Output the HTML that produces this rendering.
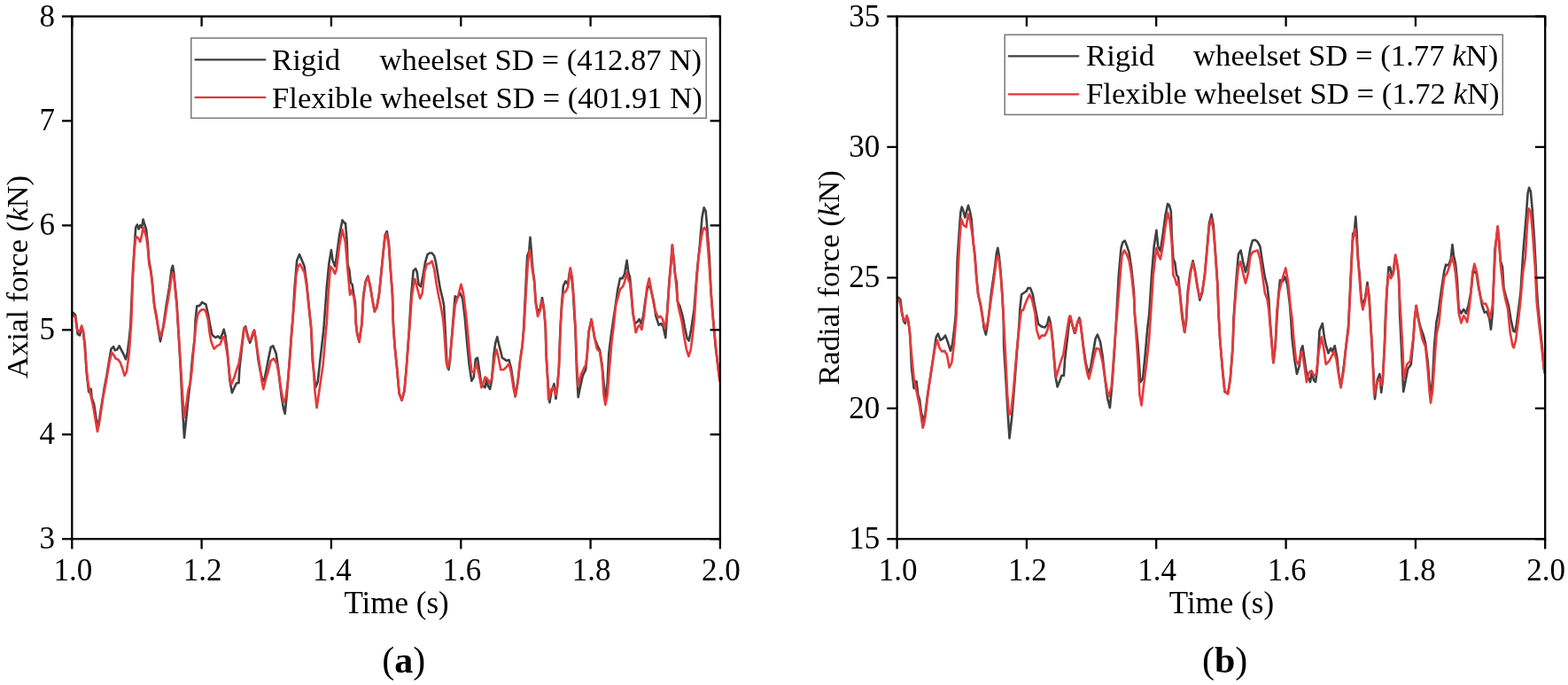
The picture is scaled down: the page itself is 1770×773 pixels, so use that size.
<!DOCTYPE html><html><head><meta charset="utf-8"><style>
html,body{margin:0;padding:0;background:#fff;width:1770px;height:773px;overflow:hidden}
svg{display:block}
.t{font-family:"Liberation Serif","Times New Roman",serif;font-size:35px;fill:#000}
.lg{font-size:34.7px}
</style></head><body>
<svg width="1770" height="773" viewBox="0 0 1770 773">
<rect width="1770" height="773" fill="#fff"/>
<path d="M81.5,353.0 L82.5,352.8 L85.0,355.3 L86.7,368.0 L87.6,376.8 L90.1,378.5 L91.8,370.0 L93.5,372.0 L96.0,390.3 L97.7,420.6 L100.2,442.4 L102.7,439.1 L103.6,449.0 L106.1,455.9 L108.6,472.7 L110.3,478.0 L111.5,480.0 L112.8,469.0 L115.4,452.5 L117.9,437.0 L120.4,423.9 L122.9,408.8 L125.5,393.6 L128.0,391.1 L129.7,395.3 L132.2,394.5 L134.7,390.3 L137.2,395.3 L139.8,400.4 L142.0,405.4 L144.0,397.0 L145.7,383.5 L147.3,368.0 L149.9,307.3 L151.5,282.0 L153.2,256.8 L154.9,253.5 L156.6,258.5 L158.3,254.3 L160.0,256.8 L161.6,247.6 L163.3,253.5 L165.0,258.5 L166.7,273.7 L168.4,295.6 L170.1,304.0 L171.8,317.4 L172.6,327.5 L174.3,344.4 L176.8,357.8 L178.5,370.0 L181.0,385.2 L182.5,378.0 L184.4,368.0 L187.7,344.4 L191.1,324.2 L193.6,304.0 L195.0,299.8 L196.2,307.0 L197.8,324.2 L199.5,341.0 L201.2,370.0 L203.5,410.0 L206.0,460.0 L208.0,494.0 L210.5,470.0 L212.5,450.0 L214.7,432.3 L217.0,405.0 L219.7,381.8 L220.5,362.0 L222.3,345.2 L224.8,345.2 L226.5,343.5 L228.1,341.0 L230.7,342.6 L232.4,343.5 L234.9,354.5 L237.4,368.0 L239.0,376.0 L240.0,378.5 L243.4,381.0 L246.0,379.3 L248.5,381.8 L251.0,376.8 L252.7,371.7 L254.4,378.5 L256.9,398.7 L259.4,429.0 L261.9,443.3 L264.5,437.4 L267.0,432.3 L269.5,432.3 L270.4,415.5 L272.9,393.6 L275.4,371.7 L277.1,368.4 L279.6,378.5 L282.1,386.9 L284.7,380.2 L286.9,372.6 L288.9,383.5 L291.4,405.4 L293.9,418.9 L296.4,429.0 L298.1,429.8 L300.7,417.2 L303.2,403.7 L305.7,391.9 L308.2,390.3 L311.6,398.7 L314.1,415.5 L317.5,445.8 L320.0,461.0 L321.7,466.9 L324.2,440.8 L326.8,407.1 L329.3,373.4 L330.5,360.0 L332.6,324.2 L335.2,293.9 L338.0,287.1 L340.2,292.2 L343.6,300.6 L346.1,319.1 L348.6,344.4 L351.2,370.0 L352.8,407.1 L356.2,437.4 L358.7,430.8 L361.3,407.1 L364.6,378.5 L365.5,370.0 L368.8,324.2 L371.4,297.2 L373.9,282.1 L375.6,293.9 L378.1,300.6 L379.8,290.5 L383.1,265.3 L386.5,248.4 L389.0,251.8 L390.0,251.8 L391.7,273.7 L392.5,298.9 L394.2,304.0 L395.9,319.1 L397.6,320.8 L399.3,332.6 L401.0,341.0 L401.8,365.0 L403.2,376.8 L405.5,386.0 L406.8,376.8 L408.5,365.0 L410.2,334.3 L412.7,317.4 L415.3,311.5 L417.8,322.5 L420.3,337.6 L422.8,351.1 L425.4,346.1 L427.9,332.6 L430.4,307.3 L432.9,282.1 L434.6,265.3 L436.8,261.0 L438.8,273.7 L440.5,298.9 L443.0,332.6 L443.9,365.0 L445.6,390.3 L448.1,415.5 L450.6,444.1 L453.6,451.7 L456.5,440.8 L459.0,412.1 L461.5,378.0 L464.1,334.3 L466.6,305.7 L469.1,303.1 L470.8,307.3 L472.5,320.8 L475.0,323.3 L477.5,310.7 L480.1,295.6 L482.6,287.1 L485.1,285.5 L487.6,285.5 L490.2,288.8 L491.9,295.6 L494.4,310.7 L496.9,325.9 L499.4,336.0 L501.1,344.4 L502.5,370.0 L504.5,410.5 L506.5,417.2 L507.8,407.1 L509.5,386.9 L511.2,365.0 L513.7,334.3 L516.3,336.0 L519.6,330.9 L522.2,337.6 L524.7,358.0 L527.2,386.9 L529.7,412.1 L532.3,429.8 L534.8,425.6 L536.8,405.4 L539.0,403.7 L540.7,415.5 L543.2,432.3 L545.7,435.7 L547.5,437.4 L549.2,429.0 L551.0,435.7 L553.1,439.1 L555.1,429.0 L557.6,398.7 L559.3,386.9 L561.3,380.2 L563.1,388.6 L564.9,395.3 L566.9,403.7 L569.4,405.4 L571.9,407.1 L574.5,406.2 L577.0,415.5 L579.5,432.3 L581.7,447.5 L584.6,430.6 L587.1,407.1 L589.6,390.3 L591.2,370.0 L593.0,332.6 L595.2,288.8 L597.2,283.8 L598.5,267.8 L599.7,282.1 L601.4,304.0 L603.1,315.8 L604.8,341.0 L607.0,352.8 L609.8,347.8 L612.0,336.0 L614.0,347.8 L615.7,368.0 L616.5,398.7 L618.2,427.3 L620.4,454.2 L622.4,442.4 L625.5,433.2 L627.5,450.0 L629.2,435.7 L630.9,415.5 L632.5,370.0 L634.2,341.0 L635.9,322.5 L638.4,317.4 L641.0,320.8 L643.5,304.0 L645.2,312.4 L646.9,329.2 L648.5,357.8 L649.4,370.0 L651.1,420.6 L652.7,448.3 L655.2,435.7 L657.8,423.9 L661.2,417.2 L662.9,398.7 L664.5,375.0 L667.6,360.4 L669.6,371.7 L671.3,381.8 L674.6,390.3 L677.1,395.3 L679.7,412.1 L681.3,429.0 L683.0,445.8 L683.9,449.2 L685.6,432.3 L687.3,398.7 L689.8,378.5 L691.5,367.0 L694.8,344.4 L697.5,325.8 L700.0,314.1 L702.6,314.1 L705.1,309.0 L707.6,293.9 L709.3,307.4 L711.0,312.4 L712.6,329.0 L713.5,340.0 L714.3,353.0 L716.8,365.2 L719.2,363.5 L721.6,360.2 L723.6,365.2 L726.1,356.8 L727.0,350.0 L728.6,338.0 L731.1,324.2 L733.3,322.5 L735.3,329.2 L737.9,340.0 L740.4,356.8 L743.7,366.9 L746.3,365.2 L748.6,368.6 L751.3,381.2 L753.0,355.0 L755.5,317.4 L757.5,295.6 L758.9,277.1 L760.5,292.2 L762.2,310.7 L763.9,319.1 L764.7,340.0 L767.3,345.0 L770.6,356.8 L773.1,370.0 L775.7,382.0 L777.7,384.5 L779.9,373.6 L782.4,356.8 L783.5,350.0 L786.6,309.0 L790.0,275.4 L792.5,245.2 L794.7,234.2 L796.7,238.4 L798.4,258.6 L800.9,292.2 L802.6,330.0 L803.4,340.0 L805.1,360.2 L807.6,390.4 L811.0,417.3 L812.5,428.0" fill="none" stroke="#404040" stroke-width="2.6" stroke-linejoin="round" stroke-linecap="round"/>
<path d="M81.5,356.0 L82.5,356.0 L85.0,358.0 L86.7,370.0 L87.6,373.4 L90.1,374.3 L92.1,367.5 L94.3,375.1 L96.8,407.1 L99.4,432.3 L101.9,444.1 L105.3,459.3 L107.8,474.4 L110.0,487.0 L112.8,472.7 L116.2,449.2 L120.4,427.3 L123.8,407.1 L126.3,397.8 L128.8,401.2 L130.5,404.6 L133.0,405.4 L135.6,408.8 L138.1,415.5 L140.6,423.9 L143.1,418.9 L145.7,398.7 L147.3,376.8 L148.2,365.0 L149.9,315.0 L151.5,285.0 L153.0,270.0 L154.0,267.0 L156.6,269.5 L158.3,272.8 L160.0,265.3 L161.6,256.8 L163.3,261.9 L165.0,266.9 L166.7,278.7 L168.4,299.0 L170.1,306.0 L171.8,319.0 L172.6,329.2 L174.3,346.1 L176.8,360.0 L178.5,370.0 L181.0,380.0 L182.5,375.0 L184.4,370.0 L187.7,350.0 L191.1,330.0 L193.6,312.0 L195.0,308.2 L196.5,314.0 L197.8,327.0 L199.5,344.4 L201.2,370.0 L203.5,405.0 L206.0,445.0 L208.0,471.0 L210.5,455.0 L212.5,440.0 L214.7,432.3 L216.4,420.0 L219.0,390.0 L221.4,365.0 L223.2,355.0 L225.6,351.1 L228.1,349.4 L230.7,349.4 L232.4,352.0 L234.9,361.2 L236.5,375.0 L238.4,385.2 L240.0,390.0 L241.7,393.6 L245.1,390.3 L248.5,388.6 L251.8,380.2 L253.5,381.8 L256.9,402.0 L259.4,425.6 L261.1,434.0 L264.5,425.6 L267.0,417.2 L269.5,410.5 L272.0,395.3 L275.4,370.0 L277.1,370.0 L280.5,383.5 L283.0,383.5 L285.5,375.0 L287.2,373.4 L289.7,390.3 L293.1,412.1 L295.6,430.6 L297.3,439.1 L299.8,429.0 L302.3,420.6 L305.7,407.1 L309.1,404.6 L312.5,410.5 L315.0,423.9 L317.5,440.8 L320.0,454.2 L322.5,449.2 L325.1,429.0 L327.6,398.7 L330.1,365.0 L332.6,335.0 L334.3,310.7 L336.5,300.6 L338.5,298.1 L341.0,302.3 L343.6,307.3 L346.1,322.5 L348.6,346.1 L351.2,370.0 L352.8,398.7 L355.4,440.8 L357.6,460.1 L360.4,440.8 L364.6,412.1 L367.9,373.4 L368.8,365.0 L370.5,332.6 L373.0,300.6 L375.6,303.9 L378.1,309.0 L379.8,304.0 L383.1,277.0 L386.5,259.4 L389.9,273.7 L392.4,304.0 L395.0,332.6 L396.1,327.5 L397.6,331.0 L399.3,334.3 L401.0,348.0 L401.8,365.0 L403.2,376.8 L405.5,386.0 L406.8,376.8 L408.5,365.0 L410.2,334.3 L412.7,318.4 L415.3,312.4 L417.8,322.5 L420.3,337.6 L422.8,352.0 L425.4,347.0 L427.9,332.6 L430.4,307.3 L432.9,282.1 L434.6,266.9 L436.3,263.6 L438.8,275.4 L440.5,300.0 L443.0,332.6 L443.9,365.0 L445.6,390.3 L448.1,415.5 L450.6,444.1 L453.6,451.7 L456.5,440.8 L459.0,412.1 L461.5,378.0 L462.4,370.0 L464.9,334.3 L467.4,318.4 L468.3,314.9 L471.6,327.5 L474.2,336.8 L476.7,330.9 L479.2,307.3 L481.8,298.1 L485.1,297.2 L487.6,294.7 L490.2,304.0 L492.7,320.8 L495.2,334.3 L497.7,346.1 L500.3,361.2 L501.1,370.0 L503.7,408.0 L505.3,415.5 L507.8,407.1 L509.5,386.9 L511.6,365.0 L513.7,344.4 L517.1,334.3 L520.5,320.8 L523.0,330.9 L526.4,357.8 L527.9,373.4 L529.8,395.3 L532.3,418.9 L534.8,420.6 L537.8,410.5 L540.6,422.3 L543.5,437.4 L546.6,429.0 L547.5,425.6 L550.0,427.3 L552.6,432.3 L555.1,427.3 L558.5,402.0 L560.5,394.5 L562.7,403.7 L565.2,417.2 L568.6,417.2 L571.9,413.8 L574.5,410.5 L577.0,420.6 L579.5,437.4 L581.7,447.5 L584.6,430.6 L587.1,407.1 L589.6,390.3 L591.5,370.0 L593.5,335.0 L595.9,295.6 L598.0,282.1 L599.5,291.0 L600.6,302.3 L603.1,318.0 L604.8,343.0 L607.0,357.0 L609.8,350.0 L612.0,339.3 L614.0,350.0 L615.9,370.0 L616.5,398.7 L618.2,427.3 L619.1,450.9 L622.4,439.1 L625.0,437.4 L627.5,445.8 L629.2,435.7 L630.9,415.5 L632.7,370.0 L634.2,345.0 L635.9,330.9 L638.4,329.2 L641.0,324.2 L643.8,302.3 L646.0,314.0 L648.0,341.0 L649.6,370.0 L651.1,410.0 L652.7,435.7 L656.0,422.3 L659.2,415.5 L661.2,412.0 L662.9,398.7 L664.5,375.0 L667.6,360.4 L669.6,371.7 L671.3,381.8 L673.8,393.6 L677.1,397.0 L679.7,415.5 L681.5,446.0 L683.4,456.8 L685.6,445.8 L688.0,415.5 L690.6,385.2 L692.5,370.0 L695.2,344.4 L697.5,336.0 L700.0,326.5 L703.2,323.2 L705.1,318.0 L707.6,307.4 L709.5,316.4 L711.0,319.1 L713.5,342.6 L715.2,358.0 L717.7,375.3 L720.2,368.6 L721.9,366.9 L724.4,371.9 L726.9,356.8 L728.7,340.0 L730.3,324.2 L732.8,314.1 L735.3,328.0 L737.4,340.0 L739.5,350.0 L742.9,358.5 L745.4,356.8 L747.9,360.0 L750.5,370.3 L753.0,355.0 L755.5,317.4 L757.5,295.6 L758.9,276.3 L760.5,292.2 L762.2,310.7 L764.0,330.0 L765.5,345.0 L767.3,353.0 L769.8,363.5 L772.3,380.3 L774.8,393.8 L777.4,402.2 L779.9,393.8 L782.4,373.6 L784.1,355.0 L785.8,325.0 L788.3,292.0 L791.6,268.7 L793.3,260.0 L795.0,256.9 L797.5,260.3 L800.1,292.2 L802.6,329.0 L804.5,357.0 L806.5,375.0 L809.3,403.9 L811.8,425.7 L812.5,430.0" fill="none" stroke="#e8383a" stroke-width="2.6" stroke-linejoin="round" stroke-linecap="round"/>
<rect x="81.3" y="18.5" width="731.6" height="589.7" fill="none" stroke="#000" stroke-width="2.3"/>
<line x1="81.3" y1="608.2" x2="81.3" y2="619.5" stroke="#000" stroke-width="2.3"/>
<line x1="81.3" y1="18.5" x2="81.3" y2="29.8" stroke="#000" stroke-width="2.3"/>
<text x="82.3" y="655" text-anchor="middle" class="t">1.0</text>
<line x1="227.6" y1="608.2" x2="227.6" y2="619.5" stroke="#000" stroke-width="2.3"/>
<line x1="227.6" y1="18.5" x2="227.6" y2="29.8" stroke="#000" stroke-width="2.3"/>
<text x="228.6" y="655" text-anchor="middle" class="t">1.2</text>
<line x1="373.9" y1="608.2" x2="373.9" y2="619.5" stroke="#000" stroke-width="2.3"/>
<line x1="373.9" y1="18.5" x2="373.9" y2="29.8" stroke="#000" stroke-width="2.3"/>
<text x="374.9" y="655" text-anchor="middle" class="t">1.4</text>
<line x1="520.3" y1="608.2" x2="520.3" y2="619.5" stroke="#000" stroke-width="2.3"/>
<line x1="520.3" y1="18.5" x2="520.3" y2="29.8" stroke="#000" stroke-width="2.3"/>
<text x="521.3" y="655" text-anchor="middle" class="t">1.6</text>
<line x1="666.6" y1="608.2" x2="666.6" y2="619.5" stroke="#000" stroke-width="2.3"/>
<line x1="666.6" y1="18.5" x2="666.6" y2="29.8" stroke="#000" stroke-width="2.3"/>
<text x="667.6" y="655" text-anchor="middle" class="t">1.8</text>
<line x1="812.9" y1="608.2" x2="812.9" y2="619.5" stroke="#000" stroke-width="2.3"/>
<line x1="812.9" y1="18.5" x2="812.9" y2="29.8" stroke="#000" stroke-width="2.3"/>
<text x="813.9" y="655" text-anchor="middle" class="t">2.0</text>
<line x1="70.0" y1="608.2" x2="81.3" y2="608.2" stroke="#000" stroke-width="2.3"/>
<line x1="801.6" y1="608.2" x2="812.9" y2="608.2" stroke="#000" stroke-width="2.3"/>
<text x="62.0" y="619.2" text-anchor="end" class="t">3</text>
<line x1="70.0" y1="490.3" x2="81.3" y2="490.3" stroke="#000" stroke-width="2.3"/>
<line x1="801.6" y1="490.3" x2="812.9" y2="490.3" stroke="#000" stroke-width="2.3"/>
<text x="62.0" y="501.3" text-anchor="end" class="t">4</text>
<line x1="70.0" y1="372.3" x2="81.3" y2="372.3" stroke="#000" stroke-width="2.3"/>
<line x1="801.6" y1="372.3" x2="812.9" y2="372.3" stroke="#000" stroke-width="2.3"/>
<text x="62.0" y="383.3" text-anchor="end" class="t">5</text>
<line x1="70.0" y1="254.4" x2="81.3" y2="254.4" stroke="#000" stroke-width="2.3"/>
<line x1="801.6" y1="254.4" x2="812.9" y2="254.4" stroke="#000" stroke-width="2.3"/>
<text x="62.0" y="265.4" text-anchor="end" class="t">6</text>
<line x1="70.0" y1="136.4" x2="81.3" y2="136.4" stroke="#000" stroke-width="2.3"/>
<line x1="801.6" y1="136.4" x2="812.9" y2="136.4" stroke="#000" stroke-width="2.3"/>
<text x="62.0" y="147.4" text-anchor="end" class="t">7</text>
<line x1="70.0" y1="18.5" x2="81.3" y2="18.5" stroke="#000" stroke-width="2.3"/>
<line x1="801.6" y1="18.5" x2="812.9" y2="18.5" stroke="#000" stroke-width="2.3"/>
<text x="62.0" y="29.5" text-anchor="end" class="t">8</text>
<text x="447.6" y="692" text-anchor="middle" class="t">Time (s)</text>
<text x="455.8" y="759" text-anchor="middle" class="t" style="font-size:42px">(<tspan font-weight="bold">a</tspan>)</text>
<text transform="translate(31,312.5) rotate(-90)" text-anchor="middle" class="t lg">Axial force (<tspan font-style="italic">k</tspan>N)</text>
<rect x="215.8" y="43" width="581.4" height="90.3" fill="#fff" stroke="#777" stroke-width="1.5"/><line x1="220.5" y1="67.4" x2="299.3" y2="67.4" stroke="#3c3c3c" stroke-width="2.3" stroke-linecap="round"/><line x1="220.5" y1="109.9" x2="299.3" y2="109.9" stroke="#e8353a" stroke-width="2.3" stroke-linecap="round"/><text x="307" y="78.5" class="t lg">Rigid</text><text x="428.5" y="78.5" class="t lg">wheelset SD = (412.87 N)</text><text x="307" y="121.5" class="t lg">Flexible wheelset SD = (401.91 N)</text>
<path d="M1013.5,336.0 L1014.5,335.9 L1016.3,338.0 L1018.2,352.0 L1020.0,362.2 L1021.8,365.0 L1023.6,356.8 L1025.2,361.0 L1027.2,376.7 L1029.0,414.8 L1031.7,438.3 L1033.5,433.0 L1034.5,430.2 L1036.3,445.6 L1038.1,451.0 L1039.9,465.6 L1041.7,471.0 L1042.6,480.0 L1044.4,467.3 L1047.1,445.6 L1050.8,422.0 L1054.4,396.7 L1056.7,380.4 L1058.9,376.7 L1061.6,384.0 L1064.3,382.2 L1067.1,378.6 L1069.8,385.8 L1073.0,395.8 L1075.2,387.6 L1077.4,369.5 L1078.8,355.0 L1080.7,292.5 L1082.5,265.3 L1084.3,239.9 L1085.7,233.6 L1087.5,238.1 L1089.3,245.4 L1091.2,238.1 L1093.0,231.8 L1094.8,238.1 L1096.6,247.2 L1098.8,274.3 L1100.6,288.8 L1102.4,314.2 L1104.2,332.3 L1106.9,343.2 L1109.6,360.0 L1110.5,369.5 L1112.9,377.6 L1115.1,365.0 L1116.9,350.0 L1118.7,332.3 L1122.3,307.0 L1125.0,285.2 L1126.3,279.8 L1127.8,288.8 L1129.6,307.0 L1131.4,332.3 L1132.8,360.0 L1133.2,391.2 L1135.9,436.5 L1137.7,467.3 L1139.5,494.5 L1142.2,471.0 L1145.0,436.5 L1147.7,400.3 L1150.4,365.9 L1151.5,347.0 L1153.1,332.3 L1155.8,330.5 L1158.6,328.7 L1160.4,325.1 L1163.1,325.1 L1165.8,332.3 L1167.7,343.2 L1169.5,352.0 L1170.4,357.0 L1172.2,365.9 L1175.9,368.6 L1179.5,369.5 L1182.2,365.9 L1184.0,357.7 L1185.8,364.0 L1188.6,387.6 L1191.3,423.8 L1193.6,436.5 L1195.8,431.1 L1198.5,423.8 L1200.9,423.8 L1202.1,405.7 L1204.9,382.2 L1207.6,356.8 L1210.3,365.9 L1213.0,375.8 L1215.7,365.9 L1218.4,358.6 L1220.3,369.5 L1223.0,391.2 L1225.7,409.3 L1228.4,421.1 L1231.1,414.8 L1233.8,398.5 L1236.6,382.2 L1238.9,377.6 L1242.0,385.8 L1244.7,402.1 L1247.4,427.5 L1250.1,449.2 L1252.9,460.1 L1255.6,431.1 L1258.3,391.2 L1260.1,360.0 L1262.8,310.6 L1265.5,279.8 L1267.4,273.4 L1269.7,271.6 L1271.9,277.0 L1274.6,285.2 L1277.3,303.3 L1280.0,328.7 L1280.9,355.0 L1282.8,372.0 L1284.6,391.2 L1287.3,431.1 L1290.0,427.5 L1292.7,400.3 L1295.4,369.5 L1297.2,355.0 L1300.0,310.6 L1302.7,278.0 L1305.4,259.9 L1307.2,278.0 L1309.9,283.4 L1312.6,265.3 L1315.4,243.6 L1318.1,230.0 L1320.0,231.8 L1321.8,238.0 L1322.7,265.3 L1324.5,292.5 L1326.3,296.1 L1328.2,310.6 L1330.0,312.4 L1331.8,328.7 L1333.6,347.0 L1335.4,362.0 L1337.2,374.9 L1339.0,362.0 L1340.8,328.7 L1343.6,307.0 L1346.6,294.3 L1349.0,305.2 L1351.7,323.3 L1354.4,338.7 L1357.1,330.5 L1359.9,310.6 L1362.6,279.8 L1364.9,252.6 L1367.5,241.7 L1369.8,254.4 L1371.6,279.8 L1374.3,319.6 L1375.5,350.0 L1377.1,382.2 L1379.8,414.8 L1382.5,442.0 L1384.5,443.0 L1386.1,443.8 L1388.8,427.5 L1391.6,391.2 L1392.5,360.0 L1395.2,319.6 L1397.9,287.0 L1400.6,282.5 L1403.3,296.1 L1406.0,307.0 L1408.8,296.1 L1411.5,279.8 L1413.8,271.6 L1416.6,270.7 L1419.3,272.5 L1422.4,278.0 L1425.1,296.1 L1427.8,312.4 L1430.5,323.3 L1432.3,337.8 L1433.5,360.0 L1435.3,382.2 L1437.4,409.3 L1439.6,391.2 L1441.4,360.0 L1443.2,332.3 L1445.0,316.0 L1447.7,317.8 L1450.4,312.4 L1453.2,321.4 L1455.9,343.2 L1457.2,360.0 L1458.6,382.2 L1461.3,405.7 L1464.0,422.0 L1466.7,413.0 L1468.6,394.9 L1470.4,390.3 L1473.1,409.3 L1475.8,427.5 L1477.7,427.0 L1479.0,431.1 L1480.8,420.2 L1483.2,429.3 L1485.0,431.1 L1486.8,418.4 L1489.5,373.1 L1492.8,365.0 L1494.9,380.4 L1496.7,389.4 L1499.5,398.5 L1502.2,393.0 L1504.0,396.7 L1506.7,390.3 L1509.4,404.0 L1511.2,422.0 L1513.6,436.5 L1516.7,414.8 L1519.4,391.2 L1522.1,368.0 L1524.8,310.6 L1527.2,263.5 L1528.8,261.7 L1530.3,244.5 L1531.5,261.7 L1533.0,292.5 L1534.8,310.6 L1536.6,335.9 L1538.4,345.0 L1541.1,335.9 L1543.5,318.7 L1545.7,335.9 L1546.6,355.0 L1549.3,400.3 L1552.0,450.1 L1554.7,429.3 L1557.4,422.0 L1559.2,442.9 L1561.0,427.5 L1562.9,391.2 L1563.8,360.0 L1565.6,328.7 L1567.4,301.5 L1569.2,301.5 L1571.0,310.6 L1572.8,307.0 L1575.2,287.9 L1577.4,299.7 L1579.2,314.2 L1580.1,355.0 L1581.9,391.2 L1583.7,431.1 L1584.2,442.0 L1586.4,431.1 L1589.1,416.6 L1592.8,411.2 L1595.5,382.2 L1596.9,360.0 L1598.7,345.0 L1600.9,358.6 L1603.6,369.5 L1606.9,378.6 L1609.1,387.6 L1611.8,409.3 L1613.6,432.9 L1614.9,449.2 L1617.2,427.5 L1619.0,391.2 L1621.4,364.0 L1623.7,352.0 L1626.3,332.3 L1629.0,314.2 L1630.5,305.0 L1632.2,298.7 L1635.0,299.6 L1637.7,292.4 L1639.5,276.1 L1641.0,288.8 L1643.1,297.8 L1645.0,317.8 L1646.7,348.1 L1649.5,353.6 L1652.2,349.0 L1654.9,353.6 L1657.6,344.5 L1660.3,330.0 L1663.0,305.1 L1664.5,306.9 L1666.7,308.7 L1669.4,326.8 L1670.3,330.0 L1673.0,344.5 L1675.7,352.6 L1678.4,351.7 L1681.2,359.0 L1683.0,371.7 L1684.8,353.6 L1687.5,281.5 L1689.3,268.8 L1690.6,256.2 L1692.4,276.1 L1693.8,294.2 L1696.0,301.4 L1697.5,325.0 L1700.2,335.4 L1702.9,344.5 L1705.6,360.8 L1708.3,373.5 L1710.1,374.4 L1711.9,366.2 L1714.7,344.5 L1716.5,330.0 L1719.2,287.0 L1722.8,243.5 L1724.6,218.1 L1726.1,211.8 L1727.9,216.3 L1729.7,236.2 L1731.9,268.8 L1733.7,301.4 L1734.8,326.8 L1736.4,348.1 L1738.2,366.2 L1741.0,393.4 L1742.8,417.0 L1743.8,421.0" fill="none" stroke="#404040" stroke-width="2.6" stroke-linejoin="round" stroke-linecap="round"/>
<path d="M1013.5,338.0 L1014.5,338.0 L1016.3,343.0 L1018.2,355.0 L1020.0,360.6 L1021.8,362.0 L1023.6,356.0 L1026.3,369.5 L1029.0,400.3 L1031.7,427.5 L1035.4,445.6 L1038.1,458.3 L1039.9,471.0 L1041.7,482.7 L1044.4,471.0 L1048.0,440.1 L1051.7,414.8 L1055.3,393.0 L1058.0,384.0 L1060.7,393.0 L1063.4,396.7 L1066.1,395.8 L1068.9,400.3 L1071.6,414.8 L1074.3,409.3 L1077.0,387.6 L1079.7,355.0 L1081.5,305.0 L1083.4,268.0 L1085.2,247.2 L1087.9,254.4 L1090.6,256.2 L1093.0,241.7 L1095.2,249.0 L1097.9,267.1 L1100.0,285.0 L1102.0,310.0 L1104.2,333.0 L1106.9,345.0 L1109.6,362.0 L1112.4,372.2 L1115.1,363.0 L1118.7,338.0 L1122.3,313.0 L1124.8,293.0 L1126.5,288.8 L1128.0,296.0 L1129.6,310.0 L1131.4,335.0 L1132.8,360.0 L1135.0,400.0 L1137.2,445.6 L1139.0,468.2 L1141.3,465.0 L1144.0,440.0 L1147.7,396.0 L1151.3,362.0 L1153.0,350.0 L1154.9,350.0 L1158.6,339.6 L1162.2,332.3 L1164.9,337.8 L1168.5,354.0 L1169.4,365.9 L1170.4,373.1 L1173.2,382.2 L1175.9,378.6 L1179.5,378.6 L1182.2,373.1 L1184.6,364.1 L1186.7,369.5 L1189.5,400.3 L1192.2,425.7 L1194.9,416.6 L1197.6,407.5 L1200.3,400.3 L1203.0,382.2 L1206.7,358.6 L1208.5,356.8 L1211.2,369.5 L1213.9,375.8 L1216.6,362.2 L1219.3,360.4 L1222.1,385.8 L1224.8,407.5 L1227.5,422.0 L1229.3,427.5 L1232.0,416.6 L1234.7,403.9 L1237.5,393.0 L1241.1,394.0 L1244.7,409.3 L1247.4,427.5 L1250.1,442.0 L1251.6,447.4 L1254.7,436.5 L1257.4,400.3 L1260.1,364.0 L1261.0,355.0 L1263.7,321.4 L1266.4,288.8 L1269.2,282.5 L1271.9,287.0 L1274.6,294.3 L1277.3,310.6 L1280.0,336.0 L1281.0,355.0 L1284.6,409.3 L1286.4,445.6 L1288.6,457.4 L1290.9,436.5 L1294.5,407.5 L1297.2,382.2 L1299.0,355.0 L1301.8,310.6 L1305.4,279.8 L1308.1,288.8 L1309.9,292.5 L1312.6,278.0 L1315.4,256.2 L1318.1,239.9 L1320.5,250.0 L1322.7,274.0 L1324.4,310.6 L1326.3,314.2 L1328.2,321.4 L1330.0,317.8 L1331.8,332.3 L1334.5,360.0 L1337.2,374.9 L1339.0,362.0 L1340.8,333.0 L1343.6,310.0 L1346.3,296.1 L1349.0,307.0 L1351.7,325.0 L1354.4,336.0 L1357.1,328.7 L1359.9,310.6 L1362.6,281.6 L1364.9,256.0 L1367.5,247.2 L1369.8,260.0 L1371.6,282.0 L1374.3,320.0 L1375.5,355.0 L1377.1,382.2 L1379.8,414.8 L1382.5,442.0 L1386.1,444.8 L1388.8,427.5 L1391.6,391.2 L1392.8,360.0 L1395.2,328.7 L1397.9,301.5 L1400.3,295.2 L1403.3,308.8 L1406.0,319.6 L1408.8,308.8 L1411.5,288.8 L1414.2,284.3 L1416.9,283.4 L1419.6,282.5 L1422.4,292.5 L1425.1,310.6 L1427.8,330.5 L1430.5,337.8 L1432.3,350.4 L1434.1,372.0 L1437.4,409.3 L1439.6,391.2 L1441.4,350.4 L1444.1,328.7 L1447.7,314.2 L1451.3,302.4 L1454.0,317.8 L1456.8,346.8 L1458.6,360.0 L1460.4,382.2 L1463.1,407.5 L1465.8,411.2 L1467.6,402.0 L1469.5,396.7 L1472.2,411.2 L1474.9,431.1 L1477.7,420.2 L1480.4,418.4 L1483.2,423.8 L1485.9,422.0 L1488.6,396.7 L1491.7,380.4 L1494.0,391.2 L1496.7,411.2 L1500.4,407.5 L1504.0,400.3 L1505.8,396.7 L1508.5,405.7 L1511.2,423.8 L1513.6,437.4 L1516.7,418.4 L1519.4,391.2 L1522.1,372.0 L1524.8,318.0 L1526.6,274.3 L1529.3,258.0 L1531.2,269.0 L1533.9,305.2 L1536.6,340.0 L1538.4,349.5 L1541.1,339.0 L1543.5,323.3 L1545.7,340.0 L1547.0,360.0 L1549.3,400.3 L1551.1,445.6 L1554.7,431.1 L1557.4,427.5 L1559.2,434.7 L1561.0,423.8 L1563.8,373.1 L1565.3,328.7 L1567.4,308.8 L1570.1,314.2 L1572.8,308.8 L1575.2,287.9 L1578.3,305.2 L1580.1,337.8 L1581.5,360.0 L1583.7,400.0 L1584.6,427.5 L1588.2,411.2 L1591.9,407.5 L1595.5,380.0 L1596.9,360.0 L1598.7,345.0 L1601.8,364.0 L1605.4,382.2 L1609.1,391.2 L1611.8,418.4 L1613.6,442.0 L1615.0,454.6 L1617.2,440.0 L1619.9,400.3 L1621.7,376.7 L1624.5,364.0 L1626.5,342.0 L1628.0,330.0 L1630.4,312.3 L1633.2,308.7 L1635.9,301.4 L1639.1,290.6 L1641.3,297.8 L1643.1,308.7 L1645.8,340.0 L1646.7,353.6 L1649.5,364.4 L1652.2,356.3 L1654.0,359.0 L1656.2,363.5 L1658.5,348.1 L1660.5,330.0 L1662.1,308.7 L1664.3,297.8 L1667.0,306.9 L1670.3,330.0 L1671.2,335.4 L1673.9,342.7 L1677.2,342.7 L1679.4,348.1 L1682.1,359.0 L1684.8,344.5 L1686.6,308.7 L1688.4,276.1 L1690.6,255.3 L1692.4,272.5 L1693.8,297.8 L1696.6,323.2 L1699.3,337.7 L1702.0,348.1 L1704.7,375.3 L1707.4,389.8 L1708.7,392.5 L1711.0,384.4 L1713.8,362.6 L1716.5,339.0 L1719.2,307.0 L1721.9,290.6 L1723.7,258.0 L1725.5,235.3 L1727.9,239.0 L1730.1,263.4 L1732.8,301.4 L1734.6,340.0 L1737.3,366.2 L1740.0,389.8 L1741.8,406.1 L1743.7,420.6" fill="none" stroke="#e8383a" stroke-width="2.6" stroke-linejoin="round" stroke-linecap="round"/>
<rect x="1012.6" y="18.5" width="731.6" height="589.7" fill="none" stroke="#000" stroke-width="2.3"/>
<line x1="1012.6" y1="608.2" x2="1012.6" y2="619.5" stroke="#000" stroke-width="2.3"/>
<line x1="1012.6" y1="18.5" x2="1012.6" y2="29.8" stroke="#000" stroke-width="2.3"/>
<text x="1013.6" y="655" text-anchor="middle" class="t">1.0</text>
<line x1="1158.9" y1="608.2" x2="1158.9" y2="619.5" stroke="#000" stroke-width="2.3"/>
<line x1="1158.9" y1="18.5" x2="1158.9" y2="29.8" stroke="#000" stroke-width="2.3"/>
<text x="1159.9" y="655" text-anchor="middle" class="t">1.2</text>
<line x1="1305.2" y1="608.2" x2="1305.2" y2="619.5" stroke="#000" stroke-width="2.3"/>
<line x1="1305.2" y1="18.5" x2="1305.2" y2="29.8" stroke="#000" stroke-width="2.3"/>
<text x="1306.2" y="655" text-anchor="middle" class="t">1.4</text>
<line x1="1451.6" y1="608.2" x2="1451.6" y2="619.5" stroke="#000" stroke-width="2.3"/>
<line x1="1451.6" y1="18.5" x2="1451.6" y2="29.8" stroke="#000" stroke-width="2.3"/>
<text x="1452.6" y="655" text-anchor="middle" class="t">1.6</text>
<line x1="1597.9" y1="608.2" x2="1597.9" y2="619.5" stroke="#000" stroke-width="2.3"/>
<line x1="1597.9" y1="18.5" x2="1597.9" y2="29.8" stroke="#000" stroke-width="2.3"/>
<text x="1598.9" y="655" text-anchor="middle" class="t">1.8</text>
<line x1="1744.2" y1="608.2" x2="1744.2" y2="619.5" stroke="#000" stroke-width="2.3"/>
<line x1="1744.2" y1="18.5" x2="1744.2" y2="29.8" stroke="#000" stroke-width="2.3"/>
<text x="1745.2" y="655" text-anchor="middle" class="t">2.0</text>
<line x1="1001.3" y1="608.2" x2="1012.6" y2="608.2" stroke="#000" stroke-width="2.3"/>
<line x1="1732.9" y1="608.2" x2="1744.2" y2="608.2" stroke="#000" stroke-width="2.3"/>
<text x="993.3" y="619.2" text-anchor="end" class="t">15</text>
<line x1="1001.3" y1="460.8" x2="1012.6" y2="460.8" stroke="#000" stroke-width="2.3"/>
<line x1="1732.9" y1="460.8" x2="1744.2" y2="460.8" stroke="#000" stroke-width="2.3"/>
<text x="993.3" y="471.8" text-anchor="end" class="t">20</text>
<line x1="1001.3" y1="313.4" x2="1012.6" y2="313.4" stroke="#000" stroke-width="2.3"/>
<line x1="1732.9" y1="313.4" x2="1744.2" y2="313.4" stroke="#000" stroke-width="2.3"/>
<text x="993.3" y="324.4" text-anchor="end" class="t">25</text>
<line x1="1001.3" y1="165.9" x2="1012.6" y2="165.9" stroke="#000" stroke-width="2.3"/>
<line x1="1732.9" y1="165.9" x2="1744.2" y2="165.9" stroke="#000" stroke-width="2.3"/>
<text x="993.3" y="176.9" text-anchor="end" class="t">30</text>
<line x1="1001.3" y1="18.5" x2="1012.6" y2="18.5" stroke="#000" stroke-width="2.3"/>
<line x1="1732.9" y1="18.5" x2="1744.2" y2="18.5" stroke="#000" stroke-width="2.3"/>
<text x="993.3" y="29.5" text-anchor="end" class="t">35</text>
<text x="1378.9" y="692" text-anchor="middle" class="t">Time (s)</text>
<text x="1382.6" y="759" text-anchor="middle" class="t" style="font-size:42px">(<tspan font-weight="bold">b</tspan>)</text>
<text transform="translate(946.5,313.5) rotate(-90)" text-anchor="middle" class="t lg">Radial force (<tspan font-style="italic">k</tspan>N)</text>
<rect x="1134.2" y="39.2" width="562.1" height="90.2" fill="#fff" stroke="#777" stroke-width="1.5"/><line x1="1138.8" y1="63.3" x2="1217.3" y2="63.3" stroke="#3c3c3c" stroke-width="2.3" stroke-linecap="round"/><line x1="1138.8" y1="106.4" x2="1217.3" y2="106.4" stroke="#e8353a" stroke-width="2.3" stroke-linecap="round"/><text x="1226" y="74.4" class="t lg">Rigid</text><text x="1347" y="74.4" class="t lg">wheelset SD = (1.77 <tspan font-style="italic">k</tspan>N)</text><text x="1226" y="117.4" class="t lg">Flexible wheelset SD = (1.72 <tspan font-style="italic">k</tspan>N)</text>
</svg></body></html>
